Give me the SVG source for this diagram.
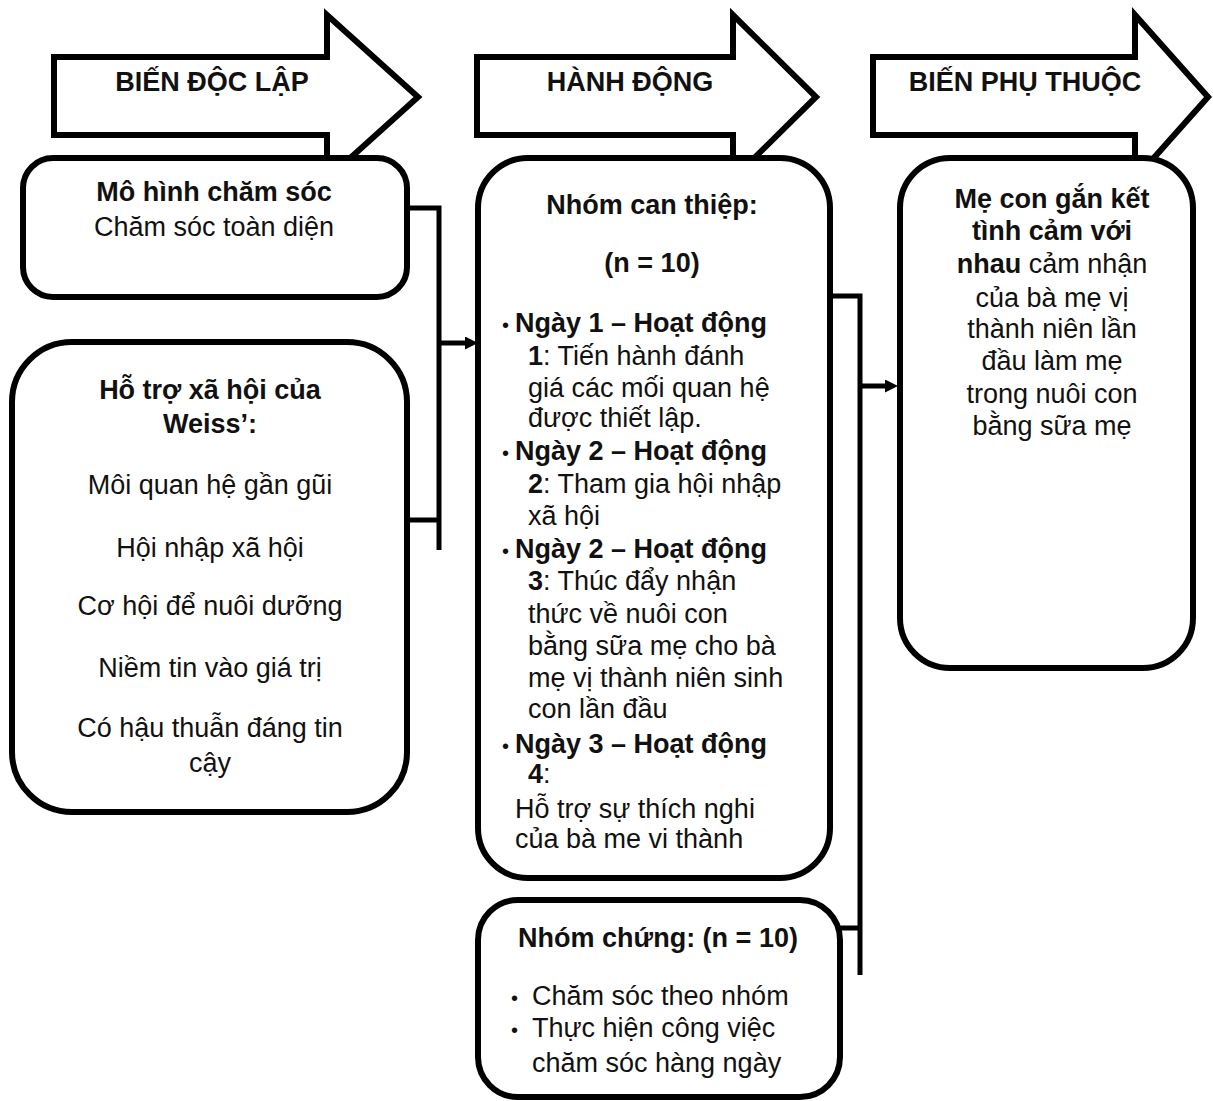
<svg xmlns="http://www.w3.org/2000/svg" width="1213" height="1101" viewBox="0 0 1213 1101">
<style>
.arw{fill:#fff;stroke:#000;stroke-width:6;stroke-linejoin:miter}
.box{fill:#fff;stroke:#000;stroke-width:6}
.con{fill:none;stroke:#000;stroke-width:5}
text{font-family:"Liberation Sans",Arial,sans-serif;font-size:27px;fill:#111}
.h{font-weight:bold;text-anchor:middle}
.c{text-anchor:middle}
.b{font-weight:bold}
.dot{font-weight:normal;font-size:20px}
</style>
<defs>
<marker id="ah" markerUnits="userSpaceOnUse" viewBox="0 0 13 13" refX="0" refY="6.5" markerWidth="13" markerHeight="13" orient="auto">
<path d="M0,0 L13,6.5 L0,13 Z" fill="#000"/>
</marker>
</defs>
<rect width="1213" height="1101" fill="#fff"/>

<g id="arrow-bien-doc-lap">
<path class="arw" d="M54,57 H327 V15 L418,97 L327,179 V135 H54 Z"/>
<text class="h" x="212" y="91">BIẾN ĐỘC LẬP</text>
</g>
<g id="arrow-hanh-dong">
<path class="arw" d="M477,57 H733 V15 L816,97 L733,179 V135 H477 Z"/>
<text class="h" x="630" y="91">HÀNH ĐỘNG</text>
</g>
<g id="arrow-bien-phu-thuoc">
<path class="arw" d="M873,57 H1135 V15 L1208,97 L1135,179 V135 H873 Z"/>
<text class="h" x="1025" y="91">BIẾN PHỤ THUỘC</text>
</g>

<g id="connectors">
<polyline class="con" points="407,208 439,208 439,550"/>
<line class="con" x1="407" y1="520" x2="439" y2="520"/>
<line class="con" x1="439" y1="343" x2="465" y2="343" marker-end="url(#ah)"/>
<polyline class="con" points="830,296 860,296 860,975"/>
<line class="con" x1="840" y1="928" x2="860" y2="928"/>
<line class="con" x1="860" y1="386" x2="885" y2="386" marker-end="url(#ah)"/>
</g>

<g id="node-mo-hinh">
<rect class="box" x="23" y="158" width="384" height="139" rx="30"/>
<text class="c b" x="214" y="201">Mô hình chăm sóc</text>
<text class="c" x="214" y="236">Chăm sóc toàn diện</text>
</g>

<g id="node-ho-tro">
<rect class="box" x="12" y="342" width="395" height="470" rx="60"/>
<text class="c b" x="210" y="399">Hỗ trợ xã hội của</text>
<text class="c b" x="210" y="433">Weiss’:</text>
<text class="c" x="210" y="494">Môi quan hệ gần gũi</text>
<text class="c" x="210" y="557">Hội nhập xã hội</text>
<text class="c" x="210" y="615">Cơ hội để nuôi dưỡng</text>
<text class="c" x="210" y="677">Niềm tin vào giá trị</text>
<text class="c" x="210" y="737">Có hậu thuẫn đáng tin</text>
<text class="c" x="210" y="772">cậy</text>
</g>

<g id="node-can-thiep">
<rect class="box" x="478" y="158" width="352" height="720" rx="50"/>
<text class="c b" x="652" y="214">Nhóm can thiệp:</text>
<text class="c b" x="652" y="272">(n = 10)</text>
<text class="b" x="502" y="332"><tspan class="dot">•</tspan><tspan x="515">Ngày 1 – Hoạt động</tspan></text>
<text x="528" y="365"><tspan class="b">1</tspan>: Tiến hành đánh</text>
<text x="528" y="397">giá các mối quan hệ</text>
<text x="528" y="427">được thiết lập.</text>
<text class="b" x="502" y="460"><tspan class="dot">•</tspan><tspan x="515">Ngày 2 – Hoạt động</tspan></text>
<text x="528" y="493"><tspan class="b">2</tspan>: Tham gia hội nhập</text>
<text x="528" y="525">xã hội</text>
<text class="b" x="502" y="558"><tspan class="dot">•</tspan><tspan x="515">Ngày 2 – Hoạt động</tspan></text>
<text x="528" y="590"><tspan class="b">3</tspan>: Thúc đẩy nhận</text>
<text x="528" y="623">thức về nuôi con</text>
<text x="528" y="655">bằng sữa mẹ cho bà</text>
<text x="528" y="687">mẹ vị thành niên sinh</text>
<text x="528" y="718">con lần đầu</text>
<text class="b" x="502" y="753"><tspan class="dot">•</tspan><tspan x="515">Ngày 3 – Hoạt động</tspan></text>
<text x="528" y="783"><tspan class="b">4</tspan>:</text>
<text x="515" y="818">Hỗ trợ sự thích nghi</text>
<text x="515" y="848">của bà me vi thành</text>
</g>

<g id="node-ket-qua">
<rect class="box" x="900" y="158" width="293" height="510" rx="50"/>
<text class="c b" x="1052" y="208">Mẹ con gắn kết</text>
<text class="c b" x="1052" y="240">tình cảm với</text>
<text class="c" x="1052" y="273"><tspan class="b">nhau</tspan> cảm nhận</text>
<text class="c" x="1052" y="307">của bà mẹ vị</text>
<text class="c" x="1052" y="338">thành niên lần</text>
<text class="c" x="1052" y="370">đầu làm mẹ</text>
<text class="c" x="1052" y="403">trong nuôi con</text>
<text class="c" x="1052" y="435">bằng sữa mẹ</text>
</g>

<g id="node-nhom-chung">
<rect class="box" x="478" y="900" width="362" height="197" rx="40"/>
<text class="c b" x="658" y="947">Nhóm chứng: (n = 10)</text>
<text x="511" y="1005"><tspan class="dot">•</tspan><tspan x="532">Chăm sóc theo nhóm</tspan></text>
<text x="511" y="1037"><tspan class="dot">•</tspan><tspan x="532">Thực hiện công việc</tspan></text>
<text x="532" y="1072">chăm sóc hàng ngày</text>
</g>
</svg>
